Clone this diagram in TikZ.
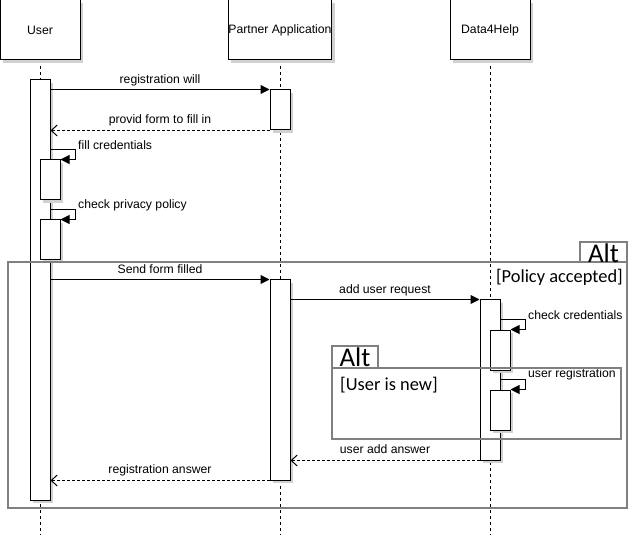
\documentclass[tikz,border=0pt]{standalone}
\usepackage{fontspec}
\setmainfont{Liberation Sans}
\newfontfamily\calib{Carlito}
\usetikzlibrary{arrows.meta,shadows,calc}
\begin{document}
\begin{tikzpicture}[x=1pt,y=-1pt,
 every node/.style={font=\fontsize{12.2}{14}\selectfont},
 shad/.style={general shadow={fill=black!18,shadow xshift=3pt,shadow yshift=-3pt}},
 actor/.style={draw,fill=white,line width=1pt,minimum width=80pt,minimum height=60pt,inner sep=0,shad},
 act/.style={draw,fill=white,line width=1pt,minimum width=20pt,inner sep=0,shad},
 life/.style={dash pattern=on 3pt off 3pt,line width=1pt},
 sync/.style={-{Triangle[length=9pt,width=9pt]},line width=1pt},
 ret/.style={-{Straight Barb[length=6pt,width=11pt]},line width=1pt,dash pattern=on 3pt off 2pt},
 frame/.style={draw=black!50,line width=2pt},
 lbl/.style={inner sep=0},
 sl/.style={inner sep=0,anchor=west},
 alttxt/.style={font=\calib\fontsize{27}{27}\selectfont,inner sep=0},
 guard/.style={font=\calib\fontsize{18.4}{18.4}\selectfont,inner sep=0}]
\useasboundingbox (0,0) rectangle (629,545);
% lifelines
\coordinate (userEnd) at (40,535);
\coordinate (partEnd) at (280,535);
\coordinate (d4hEnd) at (490,535);
\draw[life] (40,60) -- (userEnd);
\draw[life] (280,60) -- (partEnd);
\draw[life] (490,60) -- (d4hEnd);
% actors
\node[actor] (user) at (40,30) {User};
\node[actor] (partner) at (280,30) {Partner Application};
\node[actor] (d4h) at (490,30) {Data4Help};
% activations
\node[act,minimum height=420pt] (userA) at (40,290) {};
\node[act,minimum height=40pt] (partA1) at (280,110) {};
\node[act,minimum height=40pt] (userS1) at (50,180) {};
\node[act,minimum height=40pt] (userS2) at (50,240) {};
\node[act,minimum height=200pt] (partA2) at (280,380) {};
\node[act,minimum height=160pt] (d4hA) at (490,380) {};
\node[act,minimum height=40pt] (d4hS1) at (500,350) {};
\node[act,minimum height=40pt] (d4hS2) at (500,410) {};
% messages
\draw[sync] (partA1.north west -| userA.east) -- (partA1.north west);
\node[lbl] (l1) at (160,80) {registration will};
\draw[ret] (partA1.south west) -- (partA1.south west -| userA.east);
\node[lbl] (l2) at (160,120) {provid form to fill in};
\draw[sync] ($(userS1.north -| userA.east)+(0,-10)$) -- ++(25,0) |- (userS1.north east);
\node[sl] (l3) at (78,145) {fill credentials};
\draw[sync] ($(userS2.north -| userA.east)+(0,-10)$) -- ++(25,0) |- (userS2.north east);
\node[sl] (l4) at (78,205) {check privacy policy};
\draw[sync] (partA2.north west -| userA.east) -- (partA2.north west);
\node[lbl] (l5) at (160,269) {Send form filled};
\draw[sync] (d4hA.north west -| partA2.east) -- (d4hA.north west);
\node[lbl] (l6) at (385,290) {add user request};
\draw[sync] ($(d4hS1.north -| d4hA.east)+(0,-10)$) -- ++(25,0) |- (d4hS1.north east);
\node[sl] (l7) at (528,315) {check credentials};
\draw[sync] ($(d4hS2.north -| d4hA.east)+(0,-10)$) -- ++(25,0) |- (d4hS2.north east);
\node[sl] (l8) at (528,374) {user registration};
\draw[ret] (d4hA.south west) -- (d4hA.south west -| partA2.east);
\node[lbl] (l9) at (385,449) {user add answer};
\draw[ret] (partA2.south west) -- (partA2.south west -| userA.east);
\node[lbl] (l10) at (160,470) {registration answer};
% frames
\draw[frame] (8,262) rectangle (627,508);
\draw[frame] (580,242) rectangle (627,262);
\node[alttxt] (alt1) at (603.5,253) {Alt};
\node[guard,anchor=east] (g1) at (623,277) {[Policy accepted]};
\draw[frame] (332,368) rectangle (621,439);
\draw[frame] (332,346) rectangle (378,368);
\node[alttxt] (alt2) at (355,357) {Alt};
\node[guard,anchor=west] (g2) at (340,385) {[User is new]};
\end{tikzpicture}
\end{document}
